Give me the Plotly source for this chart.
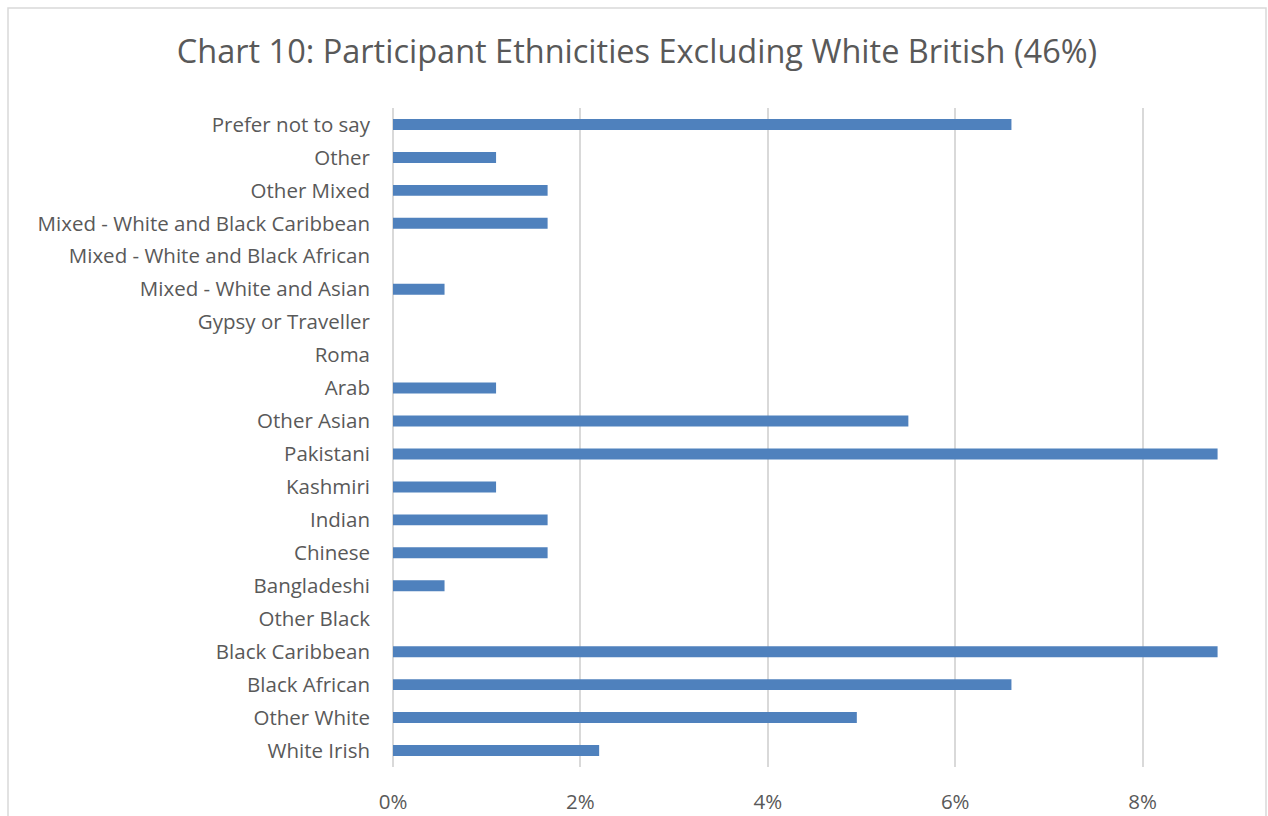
import plotly.graph_objects as go

categories = [
    "White Irish", "Other White", "Black African", "Black Caribbean", "Other Black",
    "Bangladeshi", "Chinese", "Indian", "Kashmiri", "Pakistani", "Other Asian", "Arab",
    "Roma", "Gypsy or Traveller", "Mixed - White and Asian",
    "Mixed - White and Black African", "Mixed - White and Black Caribbean",
    "Other Mixed", "Other", "Prefer not to say",
]
values = [
    0.022, 0.0495, 0.066, 0.088, 0.0,
    0.0055, 0.0165, 0.0165, 0.011, 0.088, 0.055, 0.011,
    0.0, 0.0, 0.0055,
    0.0, 0.0165,
    0.0165, 0.011, 0.066,
]
tick_vals = [0, 0.02, 0.04, 0.06, 0.08]
tick_text = ["0%", "2%", "4%", "6%", "8%"]
title_text = "Chart 10: Participant Ethnicities Excluding White British (46%)"

W, H = 1268, 816
L, R, T, B = 393, 1256, 108, 767
XMAX = 0.0921

fig = go.Figure(go.Bar(
    y=categories, x=values, orientation="h",
    marker=dict(color="#4F81BD", line=dict(width=0)),
    hoverinfo="x+y",
))

def px_x(p):
    return (p - L) / (R - L)

def px_y(p):
    return (B - p) / (B - T)

fig.add_shape(type="rect", xref="paper", yref="paper",
              x0=px_x(8), x1=px_x(1266), y0=px_y(830), y1=px_y(8),
              line=dict(color="#D9D9D9", width=1.5), fillcolor="rgba(0,0,0,0)",
              layer="below")

fig.update_layout(
    width=W, height=H,
    margin=dict(l=L, r=W - R, t=T, b=H - B, pad=0, autoexpand=False),
    paper_bgcolor="white", plot_bgcolor="white",
    font=dict(family="Open Sans", color="#595959"),
    title=dict(text=title_text, x=637 / W, xref="container", xanchor="center",
               y=1 - 52 / H, yref="container", yanchor="middle",
               font=dict(size=32.5, color="#595959", family="Open Sans")),
    bargap=0.667,
    showlegend=False,
    xaxis=dict(range=[0, XMAX], tickvals=tick_vals, ticktext=tick_text,
               showgrid=True, gridcolor="#D9D9D9", gridwidth=1.5,
               zeroline=True, zerolinecolor="#D9D9D9", zerolinewidth=1.5,
               showline=False, ticks="", ticklabelstandoff=20, automargin=False,
               tickfont=dict(size=20.5, color="#595959")),
    yaxis=dict(categoryorder="array", categoryarray=categories,
               showgrid=False, showline=False, ticks="", ticklabelstandoff=22,
               automargin=False,
               tickfont=dict(size=20.5, color="#595959")),
)

fig.write_html("out.html", config={"displayModeBar": False},
               post_script="document.body.style.margin='0';document.body.style.overflow='hidden';")
